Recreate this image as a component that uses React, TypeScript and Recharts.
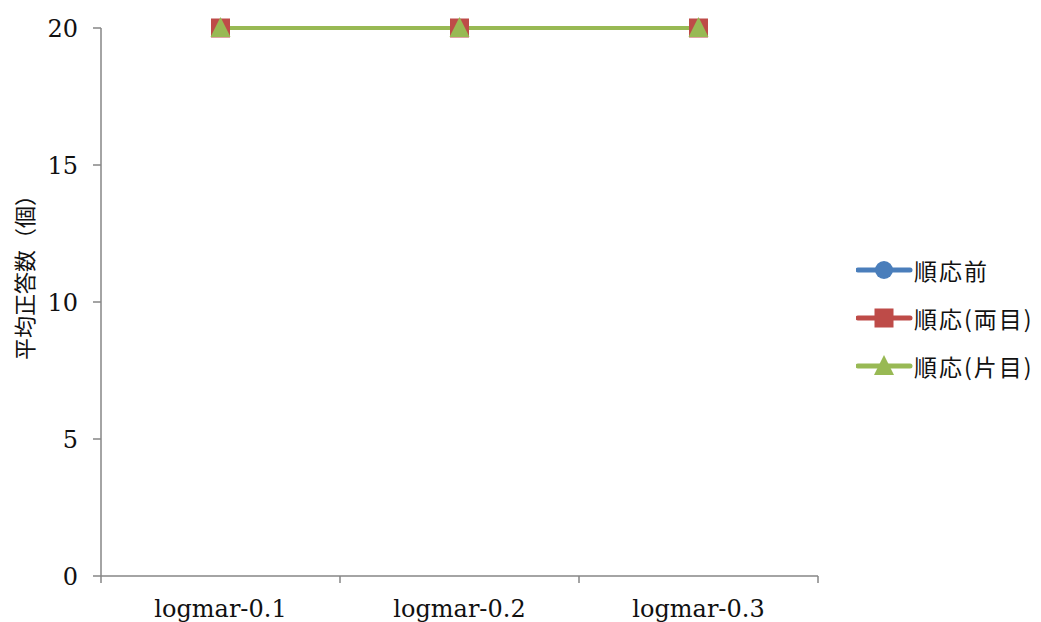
import { LineChart, Line, XAxis, YAxis } from "recharts";

const categories = ["logmar-0.1", "logmar-0.2", "logmar-0.3"];
const beforeAdapt = [20, 20, 20];
const adaptBoth = [20, 20, 20];
const adaptOne = [20, 20, 20];
const yTicks = [0, 5, 10, 15, 20];

const series = [
  { key: "before", name: "順応前", color: "#4a7ebb", shape: "circle" },
  { key: "both", name: "順応(両目)", color: "#be4b48", shape: "square" },
  { key: "one", name: "順応(片目)", color: "#98b954", shape: "triangle" },
];

const data = categories.map((c, i) => ({
  name: c,
  before: beforeAdapt[i],
  both: adaptBoth[i],
  one: adaptOne[i],
}));

const W = 1041;
const H = 622;
const margin = { top: 28, right: 223, bottom: 0, left: 0 };
const yAxisWidth = 101;
const xAxisHeight = 46;
const plotLeft = margin.left + yAxisWidth;
const plotWidth = W - margin.right - plotLeft;
const plotBottom = H - margin.bottom - xAxisHeight;
const band = plotWidth / categories.length;
const axisColor = "#868686";
const serif = "'DejaVu Serif', serif";
const cjk = "'Noto Sans CJK JP', sans-serif";

function marker(shape: string, color: string, cx: number, cy: number, key?: any) {
  if (shape === "circle") {
    return <circle key={key} cx={cx} cy={cy} r={9} fill={color} />;
  }
  if (shape === "square") {
    return <rect key={key} x={cx - 9.5} y={cy - 9.5} width={19} height={19} fill={color} />;
  }
  return (
    <polygon
      key={key}
      points={`${cx},${cy - 11} ${cx + 10},${cy + 9} ${cx - 10},${cy + 9}`}
      fill={color}
    />
  );
}

const XTick = (props: any) => {
  const { x, payload, index } = props;
  const left = x - band / 2;
  return (
    <g>
      <line x1={left} y1={plotBottom} x2={left} y2={plotBottom + 7} stroke={axisColor} strokeWidth={1.5} />
      {index === categories.length - 1 && (
        <line x1={x + band / 2} y1={plotBottom} x2={x + band / 2} y2={plotBottom + 7} stroke={axisColor} strokeWidth={1.5} />
      )}
      <text x={x} y={plotBottom + 41} textAnchor="middle" fontFamily={serif} fontSize={24} fill="#111">
        {payload.value}
      </text>
    </g>
  );
};

const YLabel = () => {
  const cx = 23;
  const cy = 272;
  return (
    <text
      x={cx}
      y={cy}
      transform={`rotate(-90 ${cx} ${cy})`}
      textAnchor="middle"
      dominantBaseline="central"
      fontFamily={cjk}
      fontSize={22}
      fill="#111"
    >
      平均正答数（個）
    </text>
  );
};

export default function App() {
  return (
    <div style={{ position: "absolute", left: 0, top: 0, width: W, height: H, background: "#fff" }}>
      <LineChart width={W} height={H} data={data} margin={margin}>
        <XAxis
          dataKey="name"
          scale="band"
          stroke={axisColor}
          strokeWidth={1.5}
          tickLine={false}
          tick={<XTick />}
          height={xAxisHeight}
          interval={0}
        />
        <YAxis
          domain={[0, 20]}
          ticks={yTicks}
          width={yAxisWidth}
          stroke={axisColor}
          strokeWidth={1.5}
          tickSize={8}
          tickMargin={15}
          tick={{ fontFamily: serif, fontSize: 24, fill: "#111" }}
          label={{ content: () => <YLabel /> }}
        />
        {series.map((s) => (
          <Line
            key={s.key}
            dataKey={s.key}
            name={s.name}
            stroke={s.color}
            strokeWidth={4}
            isAnimationActive={false}
            dot={(p: any) => marker(s.shape, s.color, p.cx, p.cy, `${s.key}-${p.index}`)}
            activeDot={false}
          />
        ))}
      </LineChart>
      <svg width={190} height={140} style={{ position: "absolute", left: 856, top: 250 }}>
        {series.map((s, i) => {
          const cy = 20 + i * 48;
          return (
            <g key={s.key}>
              <line x1={2} y1={cy} x2={54} y2={cy} stroke={s.color} strokeWidth={5} strokeLinecap="round" />
              {marker(s.shape, s.color, 28, cy)}
              <text x={58} y={cy} dominantBaseline="central" fontFamily={cjk} fontSize={23} letterSpacing={2} fill="#111">
                {s.name}
              </text>
            </g>
          );
        })}
      </svg>
    </div>
  );
}
